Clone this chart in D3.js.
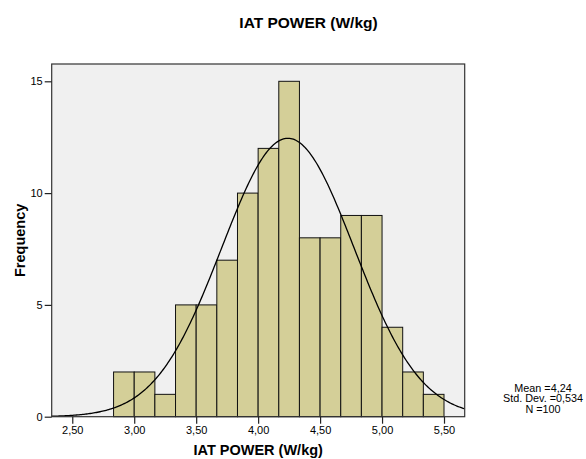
<!DOCTYPE html>
<html>
<head>
<meta charset="utf-8">
<script src="https://cdn.jsdelivr.net/npm/d3@7"></script>
<style>
  body { margin: 0; background: #fff; }
  svg text { font-family: Arial, 'Liberation Sans', sans-serif; fill: #000; }
</style>
</head>
<body>
<div id="show-graph"></div>
<script>
// histogram bins (IAT POWER, bin width 1/6)
const binStart = 2.8333
const binWidth = 1 / 6
const counts = [2, 2, 1, 5, 5, 7, 10, 12, 15, 8, 8, 9, 9, 4, 2, 1]
const xTicks = [2.5, 3.0, 3.5, 4.0, 4.5, 5.0, 5.5]
const yTicks = [0, 5, 10, 15]
const stats = { mean: 4.24, sd: 0.534, n: 100 }
const statLines = ['Mean =4,24', 'Std. Dev. =0,534', 'N =100']

const W = 586
const H = 459
const plot = { left: 51.7, right: 464.7, top: 64, bottom: 416.7 }

const svg = d3.select('#show-graph')
  .append('svg')
  .attr('width', W)
  .attr('height', H)

const xScale = d3.scaleLinear()
  .domain([2.334, 5.667])
  .range([plot.left, plot.right])
const yScale = d3.scaleLinear()
  .domain([0, 15])
  .range([plot.bottom, 81.3])

const fmt = v => d3.format('.2f')(v).replace('.', ',')

// plot background
svg.append('rect')
  .attr('x', plot.left)
  .attr('y', plot.top)
  .attr('width', plot.right - plot.left)
  .attr('height', plot.bottom - plot.top)
  .attr('fill', '#f0f0f0')

// bars
const bins = counts.map((c, i) => ({ x0: binStart + i * binWidth, x1: binStart + (i + 1) * binWidth, c }))
svg.append('g')
  .selectAll('rect')
  .data(bins)
  .join('rect')
  .attr('x', d => xScale(d.x0))
  .attr('y', d => yScale(d.c))
  .attr('width', d => xScale(d.x1) - xScale(d.x0))
  .attr('height', d => yScale(0) - yScale(d.c))
  .attr('fill', '#d4cf98')
  .attr('stroke', '#111')
  .attr('stroke-width', 1)

// normal curve from mean / sd
const xs = d3.range(xScale.domain()[0], xScale.domain()[1] + 0.001, 0.01)
const normal = x => stats.n * binWidth / (stats.sd * Math.sqrt(2 * Math.PI)) *
  Math.exp(-0.5 * Math.pow((x - stats.mean) / stats.sd, 2))
const lnFunc = d3.line()
  .x(d => xScale(d))
  .y(d => yScale(normal(d)))
  .curve(d3.curveLinear)
svg.append('path')
  .datum(xs)
  .attr('d', lnFunc)
  .attr('fill', 'none')
  .attr('stroke', '#000')
  .attr('stroke-width', 1.3)

// frame
svg.append('rect')
  .attr('x', plot.left)
  .attr('y', plot.top)
  .attr('width', plot.right - plot.left)
  .attr('height', plot.bottom - plot.top)
  .attr('fill', 'none')
  .attr('stroke', '#333')
  .attr('stroke-width', 1.2)

// axes
const xAxis = svg.append('g')
  .attr('transform', 'translate(0,' + plot.bottom + ')')
  .call(d3.axisBottom(xScale).tickValues(xTicks).tickFormat(fmt).tickSize(7).tickPadding(3))
const yAxis = svg.append('g')
  .attr('transform', 'translate(' + plot.left + ',0)')
  .call(d3.axisLeft(yScale).tickValues(yTicks).tickSize(7).tickPadding(2))
;[xAxis, yAxis].forEach(g => {
  g.select('.domain').remove()
  g.selectAll('line').attr('stroke', '#222').attr('stroke-width', 1.2)
  g.selectAll('text').attr('font-size', 11).attr('font-family', 'Arial, Liberation Sans, sans-serif').attr('fill', '#222')
})

// titles
svg.append('text')
  .attr('x', 308.5)
  .attr('y', 27.5)
  .attr('text-anchor', 'middle')
  .attr('font-weight', 'bold')
  .attr('font-size', 15.5)
  .text('IAT POWER (W/kg)')
svg.append('text')
  .attr('x', (plot.left + plot.right) / 2)
  .attr('y', 455)
  .attr('text-anchor', 'middle')
  .attr('font-weight', 'bold')
  .attr('font-size', 14.5)
  .text('IAT POWER (W/kg)')
svg.append('text')
  .attr('transform', 'translate(25,' + (plot.top + plot.bottom) / 2 + ') rotate(-90)')
  .attr('text-anchor', 'middle')
  .attr('font-weight', 'bold')
  .attr('font-size', 14.5)
  .text('Frequency')

// stats box
svg.append('g')
  .selectAll('text')
  .data(statLines)
  .join('text')
  .attr('x', 543)
  .attr('y', (d, i) => 391.5 + i * 10.5)
  .attr('text-anchor', 'middle')
  .attr('font-size', 10.8)
  .text(d => d)
</script>
</body>
</html>
